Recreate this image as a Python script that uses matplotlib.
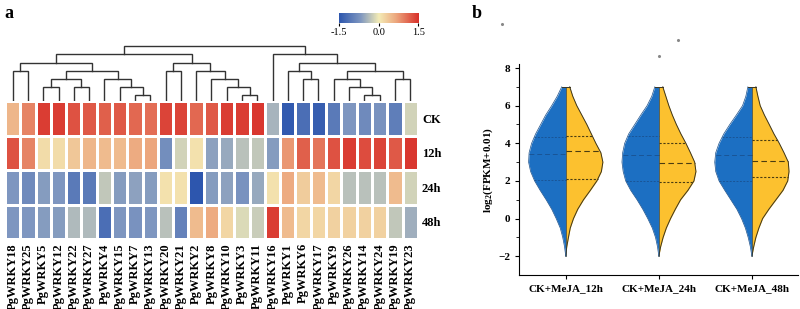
import numpy as np
import matplotlib
matplotlib.use("Agg")
import matplotlib.pyplot as plt
from matplotlib.colors import LinearSegmentedColormap

plt.rcParams['font.family'] = ['Liberation Serif', 'DejaVu Serif']
plt.rcParams['font.weight'] = 'bold'
plt.rcParams['mathtext.fontset'] = 'custom'
plt.rcParams['mathtext.rm'] = 'Liberation Serif:bold'
plt.rcParams['mathtext.bf'] = 'Liberation Serif:bold'

# ---- panel a : heatmap data ----
genes = ['PgWRKY18', 'PgWRKY25', 'PgWRKY5', 'PgWRKY12', 'PgWRKY22', 'PgWRKY27',
         'PgWRKY4', 'PgWRKY15', 'PgWRKY7', 'PgWRKY13', 'PgWRKY20', 'PgWRKY21',
         'PgWRKY2', 'PgWRKY8', 'PgWRKY10', 'PgWRKY3', 'PgWRKY11', 'PgWRKY16',
         'PgWRKY1', 'PgWRKY6', 'PgWRKY17', 'PgWRKY9', 'PgWRKY26', 'PgWRKY14',
         'PgWRKY24', 'PgWRKY19', 'PgWRKY23']
conditions = ['CK', '12h', '24h', '48h']

ck = [0.5, 0.9, 1.4, 1.4, 1.25, 1.2, 1.15, 1.2, 1.1, 1.05, 1.35, 1.35, 1.1, 1.2,
      1.4, 1.4, 1.45, -0.45, -1.45, -1.2, -1.4, -1.05, -0.7, -0.85, -0.75, -1.0, -0.2]
h12 = [1.25, 0.9, 0.15, 0.15, 0.35, 0.5, 0.45, 0.45, 0.6, 0.65, -0.8, -0.2, 0.1, -0.6,
       -0.55, -0.35, -0.3, -0.65, 0.75, 1.15, 1.0, 1.25, 1.4, 1.3, 1.35, 1.2, 1.45]
h24 = [-0.7, -0.85, -0.65, -0.7, -1.05, -1.05, -0.3, -0.65, -0.6, -0.65, 0.1, 0.1, -1.5,
       -0.65, -0.6, -0.75, -0.55, 0.1, 0.6, 0.3, 0.45, 0.2, -0.35, -0.35, -0.35, 0.45, -0.2]
h48 = [-0.7, -0.7, -0.65, -0.65, -0.4, -0.4, -1.2, -0.7, -0.75, -0.7, -0.35, -0.95, 0.45,
       0.6, 0.2, -0.15, -0.25, 1.4, 0.45, 0.2, 0.2, 0.25, 0.25, 0.25, 0.25, -0.3, -0.5]

# dendrogram merges (scipy-like): node ids >= 27 are earlier merges
merges = [(8, 9, 6), (15, 16, 6), (23, 24, 6),
          (2, 3, 14), (4, 5, 14), (7, 27, 14), (14, 28, 14), (22, 29, 14),
          (30, 31, 22), (6, 32, 22), (13, 33, 22), (19, 20, 22), (21, 34, 22), (25, 26, 22),
          (0, 1, 30), (35, 36, 30), (10, 11, 30), (12, 37, 30), (18, 38, 30), (39, 40, 30),
          (41, 42, 38), (43, 44, 38), (45, 46, 38),
          (47, 48, 47), (17, 49, 47),
          (50, 51, 55)]

# ---- panel b : split violins ----
groups = ['CK+MeJA_12h', 'CK+MeJA_24h', 'CK+MeJA_48h']
levels = np.arange(-2, 7.01, 0.5)
# half widths (pixels) at each level
ck_width = [
    [0, 1.2, 3, 5.5, 9.5, 14, 19.5, 25.5, 31, 35, 37, 36.5, 34, 30, 25, 20, 14, 8.5, 4],
    [0, 1.3, 3.3, 6.5, 11, 16, 21.7, 28, 33, 35.5, 36.7, 36, 34, 30, 24, 18, 11.7, 7, 4],
    [0, 1.5, 3.7, 6.5, 10.3, 15, 21, 27, 32.7, 36, 37, 36, 32.7, 28, 22, 15.5, 9.3, 6, 4],
]
meja_width = [
    [0, 1, 2.7, 4.5, 7.7, 12, 17.7, 24.5, 31, 35.5, 37, 35, 30, 25.5, 21, 16, 11, 7, 4],
    [0, 1.8, 4.3, 7.5, 11.7, 16.5, 21.7, 29, 35, 37, 35.7, 31.5, 27, 22, 17.5, 13.5, 10, 7, 4],
    [0, 1.8, 4, 7, 10.7, 17, 24, 31, 35.7, 37, 36.3, 32, 27.3, 22, 17.3, 12.5, 8.3, 6, 4],
]
ck_quart = [[2.05, 3.45, 4.35], [2.0, 3.4, 4.4], [2.0, 3.4, 4.35]]
meja_quart = [[2.1, 3.58, 4.4], [1.92, 2.93, 4.0], [2.22, 3.04, 4.15]]
outliers_x = [0.31, 2.21, 2.0]
outliers_y = [10.35, 9.5, 8.65]

cmap = LinearSegmentedColormap.from_list(
    'bwr2', [(0.0, '#2d56ae'), (0.27, '#7f97c0'), (0.5, '#f4ecb6'),
             (0.72, '#eca57c'), (1.0, '#d8302a')])

fig = plt.figure(figsize=(8, 3.09), dpi=100)

# heatmap
ax_h = fig.add_axes([0.00625, 0.2265, 0.516, 0.4466])
data = np.array([ck, h12, h24, h48])
ax_h.pcolormesh(data, cmap=cmap, vmin=-1.5, vmax=1.5, edgecolors='white', linewidth=0.8)
ax_h.set_xlim(0, len(genes))
ax_h.set_ylim(len(conditions), 0)
ax_h.set_xticks(np.arange(len(genes)) + 0.5)
ax_h.set_xticklabels(genes, rotation=90, fontsize=9, fontweight='bold')
ax_h.yaxis.tick_right()
ax_h.set_yticks(np.arange(len(conditions)) + 0.5)
ax_h.set_yticklabels(conditions, fontsize=9, fontweight='bold')
ax_h.tick_params(length=0, pad=3)
for s in ax_h.spines.values():
    s.set_visible(False)

# dendrogram
ax_d = fig.add_axes([0.00625, 0.673, 0.516, 57 / 309])
n = len(genes)
xpos = {i: i + 0.5 for i in range(n)}
hpos = {i: 0 for i in range(n)}
for k, (a, b, h) in enumerate(merges):
    ax_d.plot([xpos[a], xpos[a], xpos[b], xpos[b]], [hpos[a], h, h, hpos[b]],
              color='#333333', lw=1.0, solid_joinstyle='miter')
    xpos[n + k] = (xpos[a] + xpos[b]) / 2
    hpos[n + k] = h
ax_d.set_xlim(0, n)
ax_d.set_ylim(0, 57)
ax_d.axis('off')

# colorbar
ax_c = fig.add_axes([0.424, 0.9256, 0.099, 0.0324])
grad = np.linspace(-1.5, 1.5, 256).reshape(1, -1)
ax_c.imshow(grad, aspect='auto', cmap=cmap, extent=[-1.5, 1.5, 0, 1])
ax_c.set_yticks([])
ax_c.set_xticks([-1.5, 0, 1.5])
ax_c.set_xticklabels(['-1.5', '0.0', '1.5'], fontsize=7.5, fontweight='normal')
ax_c.tick_params(axis='x', length=2, pad=1.5)
for s in ax_c.spines.values():
    s.set_visible(False)

fig.text(0.006, 0.955, 'a', fontsize=13, fontweight='bold', va='center')
fig.text(0.59, 0.955, 'b', fontsize=13, fontweight='bold', va='center')

# violins
ax_v = fig.add_axes([0.649, 0.110, 0.349, 0.682])
px_per_unit = 92.7
blue = '#1c6fc2'
yellow = '#fcc12f'
for i, g in enumerate(groups):
    c = i + 1
    wl = np.array(ck_width[i]) / px_per_unit
    wr = np.array(meja_width[i]) / px_per_unit
    ax_v.fill_betweenx(levels, c - wl, c, color=blue, lw=0)
    ax_v.fill_betweenx(levels, c, c + wr, color=yellow, lw=0)
    ax_v.plot(c + wr, levels, color='#3b3520', lw=0.7)
    ax_v.plot(c - wl, levels, color='#1a4f8a', lw=0.5)
    ax_v.plot([c - wl[-1], c + wr[-1]], [levels[-1], levels[-1]], color='#3b3520', lw=0.7)
    for q, ls in zip(meja_quart[i], [(0, (2, 1.5)), (0, (5, 3)), (0, (2, 1.5))]):
        ax_v.plot([c, c + np.interp(q, levels, wr)], [q, q], color='#4a3c10', lw=0.8, ls=ls)
    for q, ls in zip(ck_quart[i], [(0, (2, 1.5)), (0, (5, 3)), (0, (2, 1.5))]):
        ax_v.plot([c - np.interp(q, levels, wl), c], [q, q], color='#195596', lw=0.7, ls=ls)
    ax_v.plot([c, c], [levels[0], levels[-1]], color='#2a3a40', lw=0.5)
ax_v.scatter(outliers_x, outliers_y, s=1.5, color='#888888', clip_on=False)

ax_v.set_xlim(0.5, 3.5)
ax_v.set_ylim(-3, 8.2)
ax_v.set_xticks([1, 2, 3])
ax_v.set_xticklabels(groups, fontsize=8, fontweight='bold')
ax_v.set_yticks([-2, 0, 2, 4, 6, 8])
ax_v.set_yticks([-1, 1, 3, 5, 7], minor=True)
ax_v.tick_params(axis='y', labelsize=8, length=3, width=0.8)
ax_v.tick_params(axis='y', which='minor', length=2, width=0.6)
ax_v.tick_params(axis='x', length=3, width=0.8)
for lab in ax_v.get_yticklabels():
    lab.set_fontweight('bold')
ax_v.spines['top'].set_visible(False)
ax_v.spines['right'].set_visible(False)
ax_v.spines['left'].set_bounds(-3, 8.2)
ax_v.set_ylabel('log$_2$(FPKM+0.01)', fontsize=8, fontweight='bold', labelpad=2)

fig.savefig('out.png', dpi=100)
